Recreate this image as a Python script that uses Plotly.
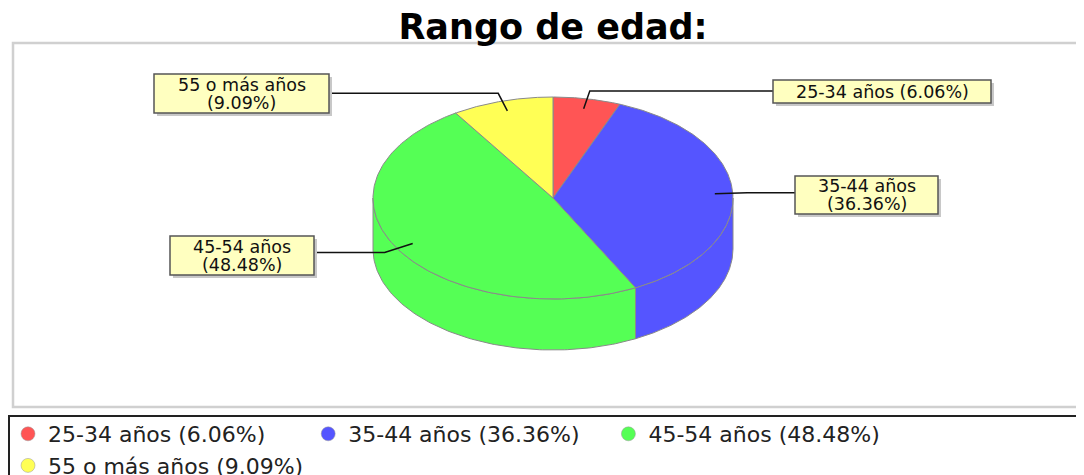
import numpy as np
import plotly.graph_objects as go

# ---------------- data ----------------
categories = ["25-34 años", "35-44 años", "45-54 años", "55 o más años"]
percentages = [6.06, 36.36, 48.48, 9.09]
title_text = "Rango de edad:"

# ---------------- styles / layout constants ----------------
colors = ["#FF5555", "#5555FF", "#55FF55", "#FFFF55"]
label_two_lines = [False, True, True, True]
# label boxes (x0, y0, x1, y1) in screen pixel space
label_boxes = [(773, 80, 991, 103), (795, 176, 938, 214),
               (170, 236, 314, 275), (154, 74, 329, 113)]

W, H = 1084, 520      # figure size (the window shows the top 475 px)
PAGE = 8              # default page margin of the html body
CX, CY = 553, 198
RX, RY = 180, 101
DEPTH = 51
FONT = "DejaVu Sans"
OUTLINE = "#8a8a8a"

fig = go.Figure()

total = sum(percentages)
angles = []
cum = 0.0
for p in percentages:
    f = p / total
    angles.append((90 - 360 * cum, 90 - 360 * (cum + f)))
    cum += f


def ellipse(theta, scale=1.0, dy=0.0):
    t = np.radians(theta)
    return CX + RX * scale * np.cos(t), CY - RY * scale * np.sin(t) + dy


# ---- side walls (front half of the cylinder) ----
for (a0, a1), col in zip(angles, colors):
    for k in (-1, 0, 1):
        lo = max(a1, -180 + 360 * k)
        hi = min(a0, 360 * k)
        if hi <= lo:
            continue
        th = np.linspace(lo, hi, 120)
        xt, yt = ellipse(th)
        xb, yb = ellipse(th[::-1], dy=DEPTH)
        xs = np.concatenate([xt, xb, xt[:1]])
        ys = np.concatenate([yt, yb, yt[:1]])
        fig.add_trace(go.Scatter(x=xs, y=ys, mode="lines", fill="toself",
                                 fillcolor=col, line=dict(color=OUTLINE, width=1),
                                 hoverinfo="skip", showlegend=False))

# ---- top faces ----
for (a0, a1), col in zip(angles, colors):
    th = np.linspace(a0, a1, 200)
    xa, ya = ellipse(th)
    xs = np.concatenate([[CX], xa, [CX]])
    ys = np.concatenate([[CY], ya, [CY]])
    fig.add_trace(go.Scatter(x=xs, y=ys, mode="lines", fill="toself",
                             fillcolor=col, line=dict(color=OUTLINE, width=1),
                             hoverinfo="skip", showlegend=False))

# ---- leader lines, label boxes and texts ----
shapes = []
annotations = []
for (a0, a1), cat, p, box, two in zip(angles, categories, percentages,
                                      label_boxes, label_two_lines):
    mid = (a0 + a1) / 2
    ax_, ay_ = ellipse(mid, 0.9)
    ex, ey = ellipse(mid, 1.08)
    x0, y0, x1, y1 = box
    edge = x0 if np.cos(np.radians(mid)) > 0 else x1
    fig.add_trace(go.Scatter(x=[ax_, ex, edge], y=[ay_, ey, ey], mode="lines",
                             line=dict(color="#111111", width=1.5),
                             hoverinfo="skip", showlegend=False))
    shapes.append(dict(type="rect", xref="x", yref="y", x0=x0 + 3, y0=y0 + 3,
                       x1=x1 + 3, y1=y1 + 3, fillcolor="#c8c8c8",
                       line=dict(width=0), layer="above"))
    shapes.append(dict(type="rect", xref="x", yref="y", x0=x0, y0=y0, x1=x1,
                       y1=y1, fillcolor="#FFFFC0",
                       line=dict(color="#555555", width=1.5), layer="above"))
    pct = f"({p:.2f}%)"
    lines = [cat, pct] if two else [f"{cat} {pct}"]
    cy = (y0 + y1) / 2
    n = len(lines)
    for i, t in enumerate(lines):
        yy = cy + (i - (n - 1) / 2) * 18
        annotations.append(dict(x=(x0 + x1) / 2, y=yy, xref="x", yref="y",
                                text=t, showarrow=False, xanchor="center",
                                yanchor="middle",
                                font=dict(family=FONT, size=17.5, color="#111111")))

# ---- legend entries ----
for cat, p, col in zip(categories, percentages, colors):
    fig.add_trace(go.Scatter(x=[None], y=[None], mode="markers",
                             marker=dict(color=col, size=14, symbol="circle",
                                         line=dict(color="#999999", width=0.5)),
                             name=f"{cat} ({p:.2f}%)"))

# plot-area border and legend frame
shapes.insert(0, dict(type="rect", xref="x", yref="y", x0=13, y0=43, x1=1110,
                      y1=407, line=dict(color="#d0d0d0", width=2.5),
                      fillcolor="rgba(0,0,0,0)", layer="below"))
shapes.insert(1, dict(type="rect", xref="x", yref="y", x0=9, y0=416, x1=1110,
                      y1=560, line=dict(color="#222222", width=2),
                      fillcolor="rgba(0,0,0,0)", layer="below"))

fig.update_layout(
    width=W, height=H,
    margin=dict(l=0, r=0, t=0, b=0),
    paper_bgcolor="white", plot_bgcolor="white",
    xaxis=dict(range=[PAGE, W + PAGE], visible=False, fixedrange=True),
    yaxis=dict(range=[H + PAGE, PAGE], visible=False, fixedrange=True),
    title=dict(text=title_text, x=(553 - PAGE) / W, xanchor="center",
               xref="paper", y=1 - (27 - PAGE) / H, yref="container",
               yanchor="middle",
               font=dict(family=FONT, size=35, color="#000000", weight="bold")),
    showlegend=True,
    legend=dict(orientation="h", x=0, xanchor="left",
                y=1 - (413 - PAGE) / H, yanchor="top",
                bgcolor="rgba(0,0,0,0)",
                font=dict(family=FONT, size=22, color="#222222")),
    shapes=shapes,
    annotations=annotations,
)

fig.write_html("out.html")
